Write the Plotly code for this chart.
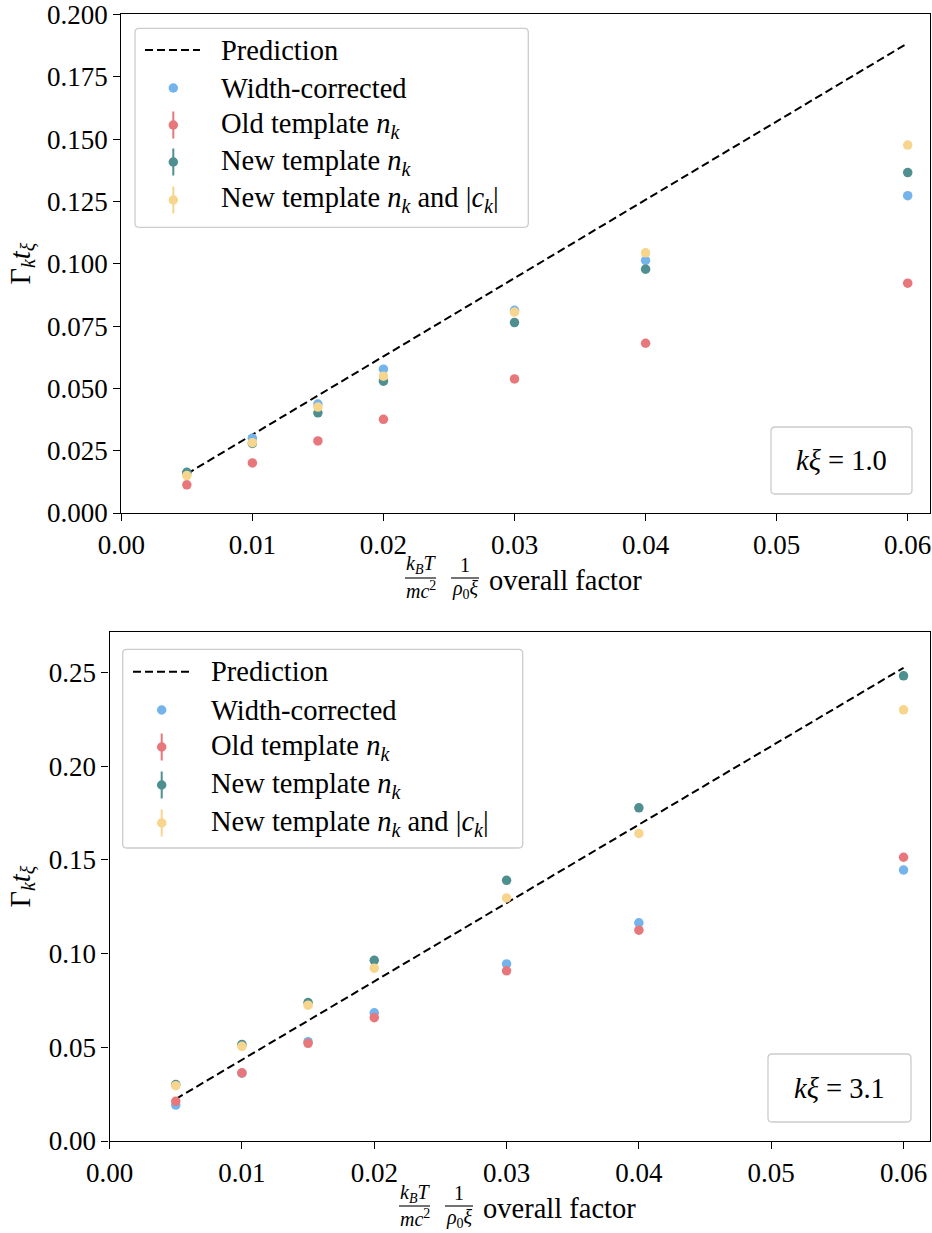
import plotly.graph_objects as go

W, H = 932, 1233
FONT = "Liberation Serif, Times New Roman, Tinos, serif"
TICK_SIZE = 27
LEG_SIZE = 28.5

# ---------------- data ----------------
factor = [0.005, 0.01, 0.015, 0.02, 0.03, 0.04, 0.06]

# panel 1: k xi = 1.0
p1_prediction = [0.0157, 0.0314, 0.0471, 0.0628, 0.0942, 0.1257, 0.1885]
p1_width_corrected = [0.0160, 0.0300, 0.0437, 0.0577, 0.0813, 0.1013, 0.1273]
p1_old_template = [0.0113, 0.0201, 0.0289, 0.0376, 0.0538, 0.0681, 0.0922]
p1_new_template = [0.0163, 0.0279, 0.0402, 0.0529, 0.0764, 0.0978, 0.1366]
p1_new_template_ck = [0.0150, 0.0282, 0.0425, 0.0549, 0.0806, 0.1044, 0.1476]

# panel 2: k xi = 3.1
p2_prediction = [0.0224, 0.0433, 0.0642, 0.0851, 0.1269, 0.1688, 0.2525]
p2_width_corrected = [0.0192, 0.0362, 0.0530, 0.0684, 0.0945, 0.1164, 0.1446]
p2_old_template = [0.0212, 0.0364, 0.0521, 0.0658, 0.0908, 0.1125, 0.1514]
p2_new_template = [0.0301, 0.0515, 0.0739, 0.0964, 0.1391, 0.1778, 0.2482]
p2_new_template_ck = [0.0295, 0.0505, 0.0725, 0.0922, 0.1297, 0.1641, 0.2301]

series_names = ["Width-corrected", "Old template <i>n</i><sub><i>k</i></sub>",
                "New template <i>n</i><sub><i>k</i></sub>",
                "New template <i>n</i><sub><i>k</i></sub> and |<i>c</i><sub><i>k</i></sub>|"]
series_colors = ["#74b4ec", "#e8777c", "#4f8f8f", "#f8d58d"]
panel_labels = ["<i>kξ</i> = 1.0", "<i>kξ</i> = 3.1"]
x_ticks = [0.0, 0.01, 0.02, 0.03, 0.04, 0.05, 0.06]
y1_ticks = [0.0, 0.025, 0.05, 0.075, 0.1, 0.125, 0.15, 0.175, 0.2]
y2_ticks = [0.0, 0.05, 0.1, 0.15, 0.2, 0.25]


def px(x):
    return x / W


def py(y):
    return 1 - y / H


fig = go.Figure()

panels = [
    ("x", "y", p1_prediction, [p1_width_corrected, p1_old_template, p1_new_template, p1_new_template_ck]),
    ("x2", "y2", p2_prediction, [p2_width_corrected, p2_old_template, p2_new_template, p2_new_template_ck]),
]
for xa, ya, pred, series in panels:
    fig.add_trace(go.Scatter(x=factor, y=pred, mode="lines", xaxis=xa, yaxis=ya,
                             line=dict(color="black", width=2, dash="8px,4px"),
                             showlegend=False, name="Prediction"))
    for vals, name, col in zip(series, series_names, series_colors):
        fig.add_trace(go.Scatter(x=factor, y=vals, mode="markers", xaxis=xa, yaxis=ya,
                                 marker=dict(color=col, size=9.5, line=dict(width=0)),
                                 showlegend=False, name=name))

axis_common = dict(showline=True, mirror=True, linecolor="black", linewidth=1.3,
                   ticks="outside", ticklen=7, tickwidth=1.3, tickcolor="black",
                   showgrid=False, zeroline=False, automargin=False,
                   ticklabeloverflow="allow",
                   tickfont=dict(family=FONT, size=TICK_SIZE, color="black"))

fig.update_layout(
    width=W, height=H, margin=dict(l=0, r=0, t=0, b=0),
    paper_bgcolor="white", plot_bgcolor="white", showlegend=False,
    font=dict(family=FONT, color="black"),
    xaxis=dict(domain=[px(121.3), px(930)], range=[0, 0.0617], tickvals=x_ticks,
               tickformat=".2f", anchor="y", **axis_common),
    yaxis=dict(domain=[py(513), py(14)], range=[0, 0.2002], tickvals=y1_ticks,
               tickformat=".3f", anchor="x", **axis_common),
    xaxis2=dict(domain=[px(109.6), px(930)], range=[0, 0.0620], tickvals=x_ticks,
                tickformat=".2f", anchor="y2", **axis_common),
    yaxis2=dict(domain=[py(1141), py(632)], range=[0, 0.2716], tickvals=y2_ticks,
                tickformat=".2f", anchor="x2", **axis_common),
)


def rrect(x0, y0, x1, y1, r=4):
    return (f"M {px(x0 + r)},{py(y0)} L {px(x1 - r)},{py(y0)} "
            f"Q {px(x1)},{py(y0)} {px(x1)},{py(y0 + r)} L {px(x1)},{py(y1 - r)} "
            f"Q {px(x1)},{py(y1)} {px(x1 - r)},{py(y1)} L {px(x0 + r)},{py(y1)} "
            f"Q {px(x0)},{py(y1)} {px(x0)},{py(y1 - r)} L {px(x0)},{py(y0 + r)} "
            f"Q {px(x0)},{py(y0)} {px(x0 + r)},{py(y0)} Z")


shapes = []
annotations = []

legends = [
    dict(box=(135, 28.3, 528.3, 227.3), ys=[50, 88, 125, 162, 200], dash=(145, 200), mx=173.3, tx=219),
    dict(box=(122.7, 649.3, 522.7, 848), ys=[671.7, 710, 747, 785, 823], dash=(133, 190), mx=161.7, tx=209),
]
for lg in legends:
    x0, y0, x1, y1 = lg["box"]
    shapes.append(dict(type="path", path=rrect(x0, y0, x1, y1), xref="paper", yref="paper",
                       fillcolor="rgba(255,255,255,0.8)", line=dict(color="#cccccc", width=1.3)))
    ys = lg["ys"]
    shapes.append(dict(type="line", xref="paper", yref="paper", x0=px(lg["dash"][0]), x1=px(lg["dash"][1]),
                       y0=py(ys[0]), y1=py(ys[0]), line=dict(color="black", width=2, dash="8px,4px")))
    annotations.append(dict(text="Prediction", x=px(lg["tx"]), y=py(ys[0]), xref="paper", yref="paper",
                            xanchor="left", yanchor="middle", showarrow=False,
                            font=dict(family=FONT, size=LEG_SIZE, color="black")))
    for i, (name, col) in enumerate(zip(series_names, series_colors)):
        cy = ys[i + 1]
        if i > 0:
            shapes.append(dict(type="line", xref="paper", yref="paper", x0=px(lg["mx"]), x1=px(lg["mx"]),
                               ysizemode="pixel", yanchor=py(cy), y0=-13.5, y1=13.5,
                               line=dict(color=col, width=2)))
        shapes.append(dict(type="circle", xref="paper", yref="paper",
                           xsizemode="pixel", xanchor=px(lg["mx"]), x0=-4.75, x1=4.75,
                           ysizemode="pixel", yanchor=py(cy), y0=-4.75, y1=4.75,
                           fillcolor=col, line=dict(width=0)))
        annotations.append(dict(text=name, x=px(lg["tx"]), y=py(cy), xref="paper", yref="paper",
                                xanchor="left", yanchor="middle", showarrow=False,
                                font=dict(family=FONT, size=LEG_SIZE, color="black")))

kboxes = [(771, 427, 912, 494), (768, 1054, 911, 1122)]
for (x0, y0, x1, y1), lab in zip(kboxes, panel_labels):
    shapes.append(dict(type="path", path=rrect(x0, y0, x1, y1), xref="paper", yref="paper",
                       fillcolor="rgba(255,255,255,0.8)", line=dict(color="#cccccc", width=1.3)))
    annotations.append(dict(text=lab, x=px((x0 + x1) / 2), y=py((y0 + y1) / 2), xref="paper", yref="paper",
                            xanchor="center", yanchor="middle", showarrow=False,
                            font=dict(family=FONT, size=LEG_SIZE, color="black")))

for yc in [(14 + 513) / 2, (632 + 1141) / 2]:
    annotations.append(dict(text="Γ<sub><i>k</i></sub><i>t</i><sub><i>ξ</i></sub>", x=px(22), y=py(yc),
                            xref="paper", yref="paper", textangle=-90, showarrow=False,
                            xanchor="center", yanchor="middle",
                            font=dict(family=FONT, size=LEG_SIZE, color="black")))

FR = 20
for dx, dy in [(6, -628), (0, 0)]:
    bar_y = 1206 + dy
    for (bx0, bx1), num, den in [((399, 430), "<i>k<sub>B</sub>T</i>", "<i>mc</i><sup>2</sup>"),
                                 ((445, 473), "1", "<i>ρ</i><sub>0</sub><i>ξ</i>")]:
        shapes.append(dict(type="line", xref="paper", yref="paper", x0=px(bx0 + dx), x1=px(bx1 + dx),
                           y0=py(bar_y), y1=py(bar_y), line=dict(color="black", width=1.1)))
        cx = (bx0 + bx1) / 2 + dx
        annotations.append(dict(text=num, x=px(cx), y=py(bar_y - 13), xref="paper", yref="paper",
                                xanchor="center", yanchor="middle", showarrow=False,
                                font=dict(family=FONT, size=FR, color="black")))
        annotations.append(dict(text=den, x=px(cx), y=py(bar_y + 12), xref="paper", yref="paper",
                                xanchor="center", yanchor="middle", showarrow=False,
                                font=dict(family=FONT, size=FR, color="black")))
    annotations.append(dict(text="overall factor", x=px(481 + dx), y=py(1208 + dy), xref="paper", yref="paper",
                            xanchor="left", yanchor="middle", showarrow=False,
                            font=dict(family=FONT, size=LEG_SIZE, color="black")))

fig.update_layout(shapes=shapes, annotations=annotations)
fig.write_html("out.html", config={"displayModeBar": False})

# remove the browser's default page margin so the figure sits at the window origin
with open("out.html", "r", encoding="utf-8") as f:
    html = f.read()
html = html.replace("<head>", "<head><style>html,body{margin:0;padding:0;overflow:hidden;}</style>", 1)
with open("out.html", "w", encoding="utf-8") as f:
    f.write(html)
